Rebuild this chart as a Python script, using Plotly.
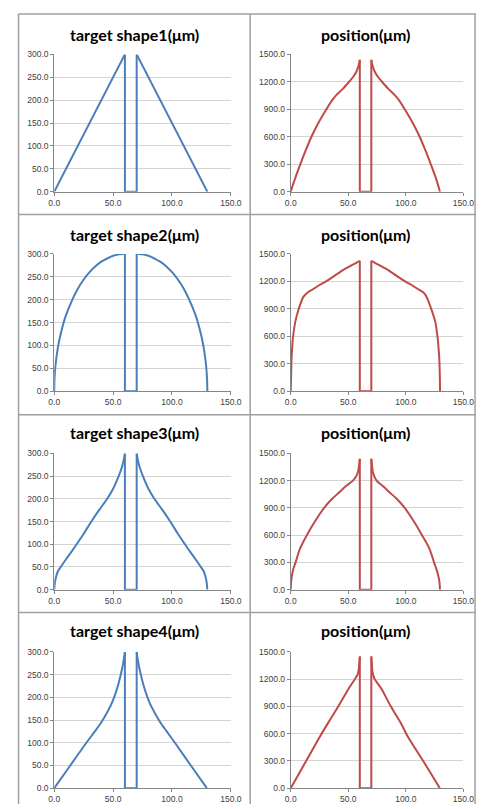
import plotly.graph_objects as go

W, H = 487, 809

# ---------------- data ----------------
# each panel: left branch (rising to the tip at x=60) and right branch (from x=70 down)
shape1_lx = [0, 60]
shape1_ly = [0, 300]
shape1_rx = [70, 130]
shape1_ry = [300, 0]

pos1_lx = [0, 4, 8.4, 13, 18, 24, 31, 36, 40, 45, 50, 54, 57, 59, 60]
pos1_ly = [0, 150, 300, 450, 600, 750, 900, 1000, 1060, 1120, 1190, 1250, 1310, 1380, 1440]
pos1_rx = [70, 71, 73, 76, 80, 85, 90, 94, 99, 106, 112, 117, 121.6, 126, 129.6]
pos1_ry = [1440, 1380, 1310, 1250, 1190, 1120, 1060, 1000, 900, 750, 600, 450, 300, 150, 0]

shape2_lx = [0, 0.2, 1, 3, 5, 8, 10, 15, 20, 25, 30, 35, 40, 45, 50, 55, 58, 60]
shape2_ly = [0, 25, 55, 94, 120, 150, 166, 198, 224, 244, 260, 273, 283, 290, 296, 299, 300, 300]
shape2_rx = [70, 72, 75, 80, 85, 90, 95, 100, 105, 110, 115, 120, 122, 125, 127, 129, 129.8, 130]
shape2_ry = [300, 300, 299, 296, 290, 283, 273, 260, 244, 224, 198, 166, 150, 120, 94, 55, 25, 0]

pos2_lx = [0, 0.3, 0.6, 1, 2, 4, 7, 11, 15, 18, 25, 30, 38, 45, 52, 58, 60]
pos2_ly = [0, 150, 300, 420, 590, 760, 900, 1030, 1080, 1103, 1160, 1195, 1260, 1320, 1370, 1410, 1425]
pos2_rx = [70, 72, 78, 85, 92, 100, 105, 112, 115, 118, 122, 125.5, 127.5, 128.7, 129.2, 129.5, 129.7]
pos2_ry = [1425, 1410, 1370, 1320, 1260, 1195, 1160, 1103, 1080, 1030, 900, 760, 590, 420, 300, 150, 0]

shape3_lx = [0, 0.5, 1.5, 3, 5.5, 10, 15, 19, 25, 31.5, 38, 45, 50, 54.7, 57.5, 59.2, 60]
shape3_ly = [0, 15, 28, 40, 50, 67, 85, 100, 123, 150, 175, 200, 222, 250, 270, 288, 300]
shape3_rx = [70, 70.8, 72.5, 75.3, 80, 85, 92, 98.5, 105, 111, 115, 120, 124.5, 127, 128.5, 129.5, 130]
shape3_ry = [300, 288, 270, 250, 222, 200, 175, 150, 123, 100, 85, 67, 50, 40, 28, 15, 0]

pos3_lx = [0, 0.3, 1, 2, 4.2, 8, 14, 21, 29, 36, 42, 48, 54, 57, 58.5, 59.5, 60]
pos3_ly = [0, 80, 150, 215, 300, 450, 600, 750, 900, 1000, 1070, 1140, 1200, 1250, 1300, 1380, 1440]
pos3_rx = [70, 70.5, 71.2, 72.5, 74.5, 80, 86, 92, 99, 107, 114, 120.5, 124.5, 126.8, 128.2, 129.2, 129.6]
pos3_ry = [1440, 1380, 1300, 1250, 1200, 1140, 1070, 1000, 900, 750, 600, 450, 300, 215, 150, 80, 0]

shape4_lx = [0, 13.6, 27.3, 34.5, 40, 44.5, 48.5, 51.5, 54, 56, 57.8, 59.2, 60]
shape4_ly = [0, 50, 100, 125, 145, 165, 185, 205, 225, 245, 265, 285, 300]
shape4_rx = [70, 70.8, 72.2, 74, 76, 78.5, 81.5, 85.5, 90, 95.5, 102.5, 116, 129.6]
shape4_ry = [300, 285, 265, 245, 225, 205, 185, 165, 145, 125, 100, 50, 0]

pos4_lx = [0, 12.5, 25, 33, 41.8, 50, 55.7, 58, 59, 59.6, 60]
pos4_ly = [0, 280, 560, 730, 910, 1090, 1200, 1250, 1300, 1380, 1450]
pos4_rx = [70, 70.4, 70.8, 71.5, 73, 79, 86.5, 95, 102, 116, 129.5]
pos4_ry = [1450, 1380, 1300, 1250, 1200, 1090, 910, 730, 560, 280, 0]

left_titles = ["target shape1(μm)", "target shape2(μm)", "target shape3(μm)", "target shape4(μm)"]
right_title = "position(μm)"

x_ticks = [0, 50, 100, 150]
left_y_ticks = [0, 50, 100, 150, 200, 250, 300]
right_y_ticks = [0, 300, 600, 900, 1200, 1500]

panels = [
    [(shape1_lx, shape1_ly, shape1_rx, shape1_ry), (pos1_lx, pos1_ly, pos1_rx, pos1_ry)],
    [(shape2_lx, shape2_ly, shape2_rx, shape2_ry), (pos2_lx, pos2_ly, pos2_rx, pos2_ry)],
    [(shape3_lx, shape3_ly, shape3_rx, shape3_ry), (pos3_lx, pos3_ly, pos3_rx, pos3_ry)],
    [(shape4_lx, shape4_ly, shape4_rx, shape4_ry), (pos4_lx, pos4_ly, pos4_rx, pos4_ry)],
]

# ---------------- layout geometry ----------------
BLUE = "#4A7EBB"
RED = "#BE4B48"
col_px = [(50, 233), (295, 474)]
row_px = [(50, 189), (252, 391), (454, 592), (655, 793)]
title_y_px = [30, 232, 433, 633]
title_x_px = [133, 372]

fig = go.Figure()
layout = dict(
    width=W, height=H, margin=dict(l=0, r=0, t=0, b=0),
    paper_bgcolor="white", plot_bgcolor="white", showlegend=False,
    annotations=[], shapes=[],
)

tickfont = dict(family="Liberation Sans", size=8.5, color="#404040")
axis_common = dict(showline=True, linecolor="#868686", linewidth=1,
                   ticks="outside", ticklen=3, tickcolor="#868686",
                   zeroline=False, tickfont=tickfont, fixedrange=True)

n = 0
for r in range(4):
    for c in range(2):
        n += 1
        xa = "x" if n == 1 else f"x{n}"
        ya = "y" if n == 1 else f"y{n}"
        lx, ly, rx, ry = panels[r][c]
        color = BLUE if c == 0 else RED
        common = dict(mode="lines", xaxis=xa, yaxis=ya, hoverinfo="skip")
        # left branch
        fig.add_trace(go.Scatter(x=lx, y=ly, line=dict(color=color, width=2,
                                 shape="spline", smoothing=0.8), **common))
        # the gap between branches (down, across, up)
        fig.add_trace(go.Scatter(x=[lx[-1], lx[-1], rx[0], rx[0]],
                                 y=[ly[-1], 0, 0, ry[0]],
                                 line=dict(color=color, width=2), **common))
        # right branch
        fig.add_trace(go.Scatter(x=rx, y=ry, line=dict(color=color, width=2,
                                 shape="spline", smoothing=0.8), **common))
        x0, x1 = col_px[c]
        t, b = row_px[r]
        yt = left_y_ticks if c == 0 else right_y_ticks
        layout[f"xaxis{'' if n == 1 else n}"] = dict(
            axis_common, domain=[x0 / W, x1 / W], range=[0, 150],
            tickvals=x_ticks, ticktext=[f"{v:.1f}" for v in x_ticks],
            showgrid=False, anchor=ya)
        layout[f"yaxis{'' if n == 1 else n}"] = dict(
            axis_common, domain=[1 - b / H, 1 - t / H], range=[0, yt[-1]],
            tickvals=yt, ticktext=[f"{v:.1f}" for v in yt],
            showgrid=True, gridcolor="#D4D4D4", gridwidth=1, anchor=xa)
        layout["annotations"].append(dict(
            text="<b>" + (left_titles[r] if c == 0 else right_title) + "</b>",
            x=title_x_px[c] / W, y=1 - title_y_px[r] / H, xref="paper", yref="paper",
            xanchor="center", yanchor="middle", showarrow=False,
            font=dict(family="Lato", size=16, color="#000000")))

# cell borders
bc = "#A0A0A0"
for xpx in [13, 253, 486]:
    layout["shapes"].append(dict(type="line", xref="paper", yref="paper",
                                 x0=xpx / W, x1=xpx / W, y0=1 - 9 / H, y1=0,
                                 line=dict(color=bc, width=1.5)))
for ypx in [9, 212, 415, 615]:
    layout["shapes"].append(dict(type="line", xref="paper", yref="paper",
                                 x0=13 / W, x1=1, y0=1 - ypx / H, y1=1 - ypx / H,
                                 line=dict(color=bc, width=1.5)))

fig.update_layout(**layout)
fig.write_html("out.html",
               config={"displayModeBar": False, "staticPlot": True},
               post_script="document.body.style.margin='0';document.body.style.overflow='hidden';")
